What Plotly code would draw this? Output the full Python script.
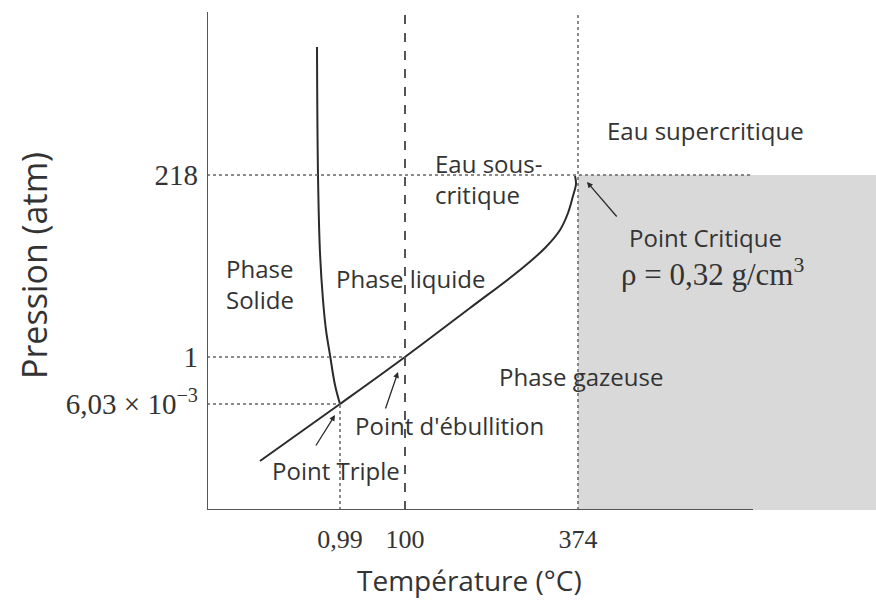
import plotly.graph_objects as go

# schematic axes (diagram is not to scale): positions along each axis
temp_pos = [133, 198, 371]
temp_labels = ["0,99", "100", "374"]
pres_pos = [335, 153, 106]
pres_labels = ["218", "1", "6,03 × 10<sup>−3</sup>"]

x_max, y_max = 669, 498
x_axis_end = 546

# fusion curve (solide / liquide)
fusion_x = [110, 111, 113, 116, 119, 123, 128, 133]
fusion_y = [463, 335, 257, 210, 180, 155, 125, 106]

# vaporisation curve (liquide / gaz), from below the triple point to the critical point
vap_x = [53, 133, 198, 263, 313, 338, 353, 361, 366, 369, 368]
vap_y = [49, 106, 153, 202, 240, 262, 280, 297, 314, 326, 334]

ink = "#2b2b2b"
txt = "#333333"
sans = "Open Sans"
serif = "Liberation Serif"

fig = go.Figure()

# gaz supercritique zone
fig.add_shape(type="rect", x0=temp_pos[2], x1=x_max, y0=0, y1=pres_pos[0],
              fillcolor="#d9d9d9", line_width=0, layer="below")

# guide lines
dot = dict(color="#666666", width=1.5, dash="dot")
fig.add_shape(type="line", x0=0, x1=x_axis_end, y0=pres_pos[0], y1=pres_pos[0], line=dot)
fig.add_shape(type="line", x0=0, x1=temp_pos[1], y0=pres_pos[1], y1=pres_pos[1], line=dot)
fig.add_shape(type="line", x0=0, x1=temp_pos[0], y0=pres_pos[2], y1=pres_pos[2], line=dot)
fig.add_shape(type="line", x0=temp_pos[0], x1=temp_pos[0], y0=0, y1=pres_pos[2], line=dot)
fig.add_shape(type="line", x0=temp_pos[2], x1=temp_pos[2], y0=0, y1=y_max, line=dot)
fig.add_shape(type="line", x0=temp_pos[1], x1=temp_pos[1], y0=0, y1=y_max,
              line=dict(color="#555555", width=2, dash="dash"))

# axes
fig.add_shape(type="line", x0=0, x1=x_axis_end, y0=0, y1=0, line=dict(color="#555555", width=2))
fig.add_shape(type="line", x0=0, x1=0, y0=0, y1=y_max, line=dict(color="#555555", width=2))

fig.add_trace(go.Scatter(x=fusion_x, y=fusion_y, mode="lines", line_shape="spline",
                         line=dict(color=ink, width=2), hoverinfo="skip"))
fig.add_trace(go.Scatter(x=vap_x, y=vap_y, mode="lines", line_shape="spline",
                         line=dict(color=ink, width=2), hoverinfo="skip"))


def label(text, x, y, size=24, font=sans):
    fig.add_annotation(x=x, y=y, text=text, showarrow=False, xanchor="left", yanchor="middle",
                       align="left", font=dict(family=font, size=size, color=txt))


label("Eau supercritique", 398, 380)
label("Eau sous-<br>critique", 226, 331)
label("Point Critique", 420, 273)
label("ρ = 0,32 g/cm<sup>3</sup>", 412, 238, size=31, font=serif)
label("Phase<br>Solide", 17, 226)
label("Phase liquide", 127, 232)
label("Phase gazeuse", 290, 134)
label("Point d'ébullition", 146, 85)
label("Point Triple", 63, 40)

arrow = dict(showarrow=True, arrowhead=2, arrowsize=0.9, arrowwidth=1.3, arrowcolor=ink,
             axref="x", ayref="y", text="")
fig.add_annotation(x=380, y=328, ax=411, ay=292, **arrow)
fig.add_annotation(x=191, y=138, ax=178, ay=100, **arrow)
fig.add_annotation(x=128, y=95, ax=108, ay=63, **arrow)

# axis titles
fig.add_annotation(text="Température (°C)", xref="paper", yref="paper", x=0.392, y=0,
                   yshift=-70, xanchor="center", yanchor="middle", showarrow=False,
                   font=dict(family=sans, size=28, color=txt))
fig.add_annotation(text="Pression (atm)", xref="paper", yref="paper", x=0, y=0.49,
                   xshift=-173, xanchor="center", yanchor="middle", textangle=-90,
                   showarrow=False, font=dict(family=sans, size=34, color=txt))

fig.update_layout(
    width=876, height=601,
    margin=dict(l=207, r=0, t=12, b=91),
    plot_bgcolor="white", paper_bgcolor="white",
    showlegend=False,
    xaxis=dict(range=[0, x_max], tickvals=temp_pos, ticktext=temp_labels, showgrid=False,
               zeroline=False, showline=False, ticks="", ticklabelstandoff=11,
               tickfont=dict(family=serif, size=26, color=txt), fixedrange=True),
    yaxis=dict(range=[0, y_max], tickvals=pres_pos, ticktext=pres_labels, showgrid=False,
               zeroline=False, showline=False, ticks="", ticklabelstandoff=8,
               tickfont=dict(family=serif, size=29, color=txt), fixedrange=True),
)

fig.write_html("out.html", config={"displayModeBar": False},
               post_script="document.body.style.margin='0';"
                           "document.documentElement.style.overflow='hidden';")
